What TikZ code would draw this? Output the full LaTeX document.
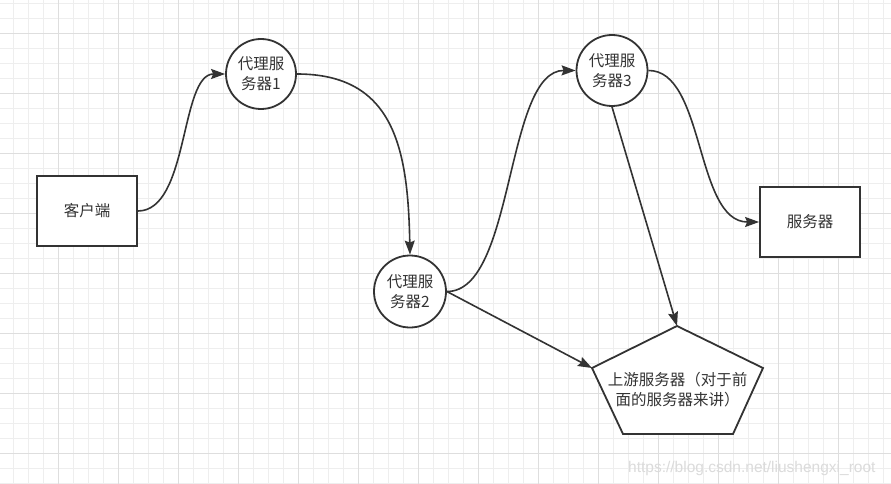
\documentclass[tikz,border=0pt]{standalone}
\usepackage{fontspec}
\setmainfont{Noto Sans CJK SC}
\newfontfamily\wmfont{Liberation Sans}
\usetikzlibrary{arrows.meta}
\definecolor{ink}{HTML}{333333}
\definecolor{gridminor}{HTML}{EEEEEE}
\definecolor{gridmajor}{HTML}{DEDEDE}
\tikzset{
  box/.style={draw=ink, line width=1.8pt, fill=white, minimum width=100pt, minimum height=70pt, text=ink, font=\fontsize{15.5}{20}\selectfont},
  proxy/.style={draw=ink, circle, line width=1.8pt, fill=white, minimum size=70pt, inner sep=0pt, align=center, text=ink, font=\fontsize{15.5}{20}\selectfont},
  conn/.style={draw=ink, line width=1.6pt, -{Stealth[length=14pt,width=10pt,inset=2pt]}},
  pent/.style={draw=ink, line width=1.8pt, fill=white, line join=miter},
  plabel/.style={align=center, text=ink, font=\fontsize{15.5}{20}\selectfont, inner sep=0pt},
  watermark/.style={text=gray!28, font=\wmfont\fontsize{15.5}{17}\selectfont, inner sep=0pt}
}
\begin{document}
\begin{tikzpicture}[x=1pt,y=-1pt]
\useasboundingbox (0,0) rectangle (891,484);
\fill[white] (0,0) rectangle (891,484);
% grid
\foreach \i in {0,...,59} {
  \draw[gridminor, line width=1pt] ({13.3+15*\i},0) -- ({13.3+15*\i},484);
}
\foreach \j in {0,...,32} {
  \draw[gridminor, line width=1pt] (0,{3.3+15*\j}) -- (891,{3.3+15*\j});
}
\foreach \i in {0,...,14} {
  \draw[gridmajor, line width=1pt] ({58.3+60*\i},0) -- ({58.3+60*\i},484);
}
\foreach \j in {0,...,7} {
  \draw[gridmajor, line width=1pt] (0,{33.3+60*\j}) -- (891,{33.3+60*\j});
}
% nodes
\node[box] (client) at (87,211) {客户端};
\node[proxy] (p1) at (261,74) {代理服\\务器1};
\node[proxy, minimum size=72pt] (p2) at (410,291.5) {代理服\\务器2};
\node[proxy, minimum size=71pt] (p3) at (612,70.5) {代理服\\务器3};
\node[box] (server) at (810,222) {服务器};
% pentagon
\coordinate (upT) at (677,326);
\coordinate (upL) at (592,368);
\coordinate (upR) at (763,368);
\coordinate (upBR) at (733,434);
\coordinate (upBL) at (623,434);
\draw[pent] (upT) -- (upR) -- (upBR) -- (upBL) -- (upL) -- cycle;
\node[plabel] (up) at (677.5,389.5) {上游服务器（对于前\\面的服务器来讲）};
% connectors
\draw[conn] (client.east) .. controls (189,211) and (180,74) .. (p1.west);
\draw[conn] (p1.east) .. controls (395,74) and (408,150) .. (p2.north);
\draw[conn] (p2.east) .. controls (515,292) and (505,70) .. (p3.west);
\draw[conn] (p3.east) .. controls (705,70) and (695,222) .. (server.west);
\draw[conn] (p2.east) -- (upL);
\draw[conn] (p3.south) -- (upT);
% watermark
\node[watermark, anchor=base west] (wm) at (628,472) {https://blog.csdn.net/liushengxi\_root};
\end{tikzpicture}
\end{document}
